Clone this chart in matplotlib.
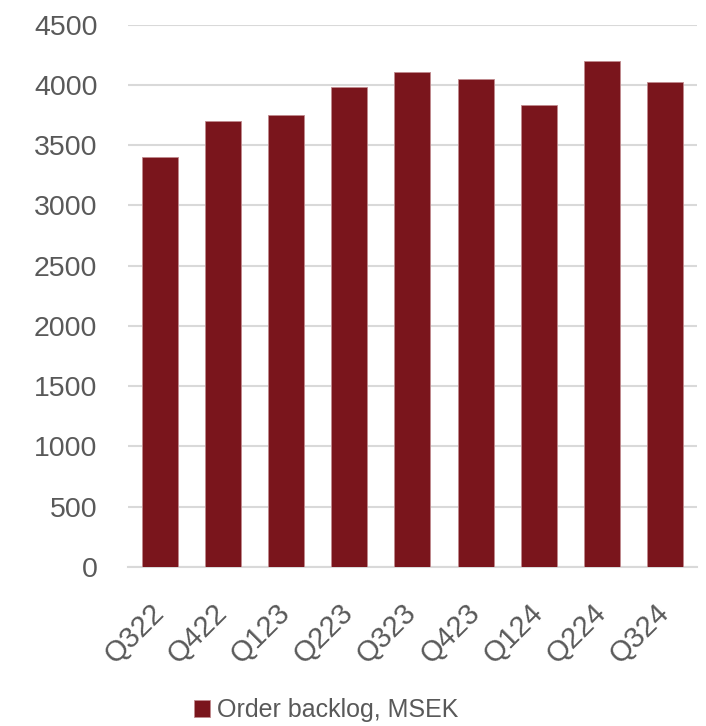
import matplotlib
matplotlib.use("Agg")
import matplotlib.pyplot as plt

categories = ["Q322", "Q422", "Q123", "Q223", "Q323", "Q423", "Q124", "Q224", "Q324"]
order_backlog = [3400, 3700, 3750, 3980, 4110, 4050, 3835, 4200, 4025]
series_name = "Order backlog, MSEK"
yticks = [0, 500, 1000, 1500, 2000, 2500, 3000, 3500, 4000, 4500]

plt.rcParams['font.family'] = ['Liberation Sans', 'DejaVu Sans']

fig = plt.figure(figsize=(7.06, 7.26), dpi=100)
ax = fig.add_axes([0.1813, 0.2193, 0.8055, 0.7467])

bar_color = "#7A151C"
text_color = "#595959"
ax.bar(range(len(categories)), order_backlog, width=0.57, color=bar_color,
       label=series_name, zorder=3, edgecolor="#C08A8E", linewidth=0.6)

ax.set_xlim(-0.5, len(categories) - 0.5)
ax.set_ylim(0, 4500)
ax.set_yticks(yticks)
ax.set_yticklabels([str(t) for t in yticks])
ax.yaxis.grid(True, color="#D9D9D9", linewidth=1.5, zorder=0)
ax.set_axisbelow(True)
for s in ["top", "right", "left"]:
    ax.spines[s].set_visible(False)
ax.spines["bottom"].set_color("#D9D9D9")
ax.spines["bottom"].set_linewidth(1.5)

ax.tick_params(axis="y", length=0, pad=22, labelsize=20.5, labelcolor=text_color)
ax.tick_params(axis="x", length=0, pad=30, labelsize=21, labelcolor=text_color)
ax.set_xticks(range(len(categories)))
ax.set_xticklabels(categories, rotation=45, ha="right", va="center",
                   rotation_mode="anchor")

leg = fig.legend(loc="center", bbox_to_anchor=(0.462, 0.022), frameon=False,
                 fontsize=18, handlelength=0.65, handleheight=0.65, handletextpad=0.25,
                 borderpad=0, borderaxespad=0)
for t in leg.get_texts():
    t.set_color(text_color)

fig.savefig("out.png", dpi=100)
